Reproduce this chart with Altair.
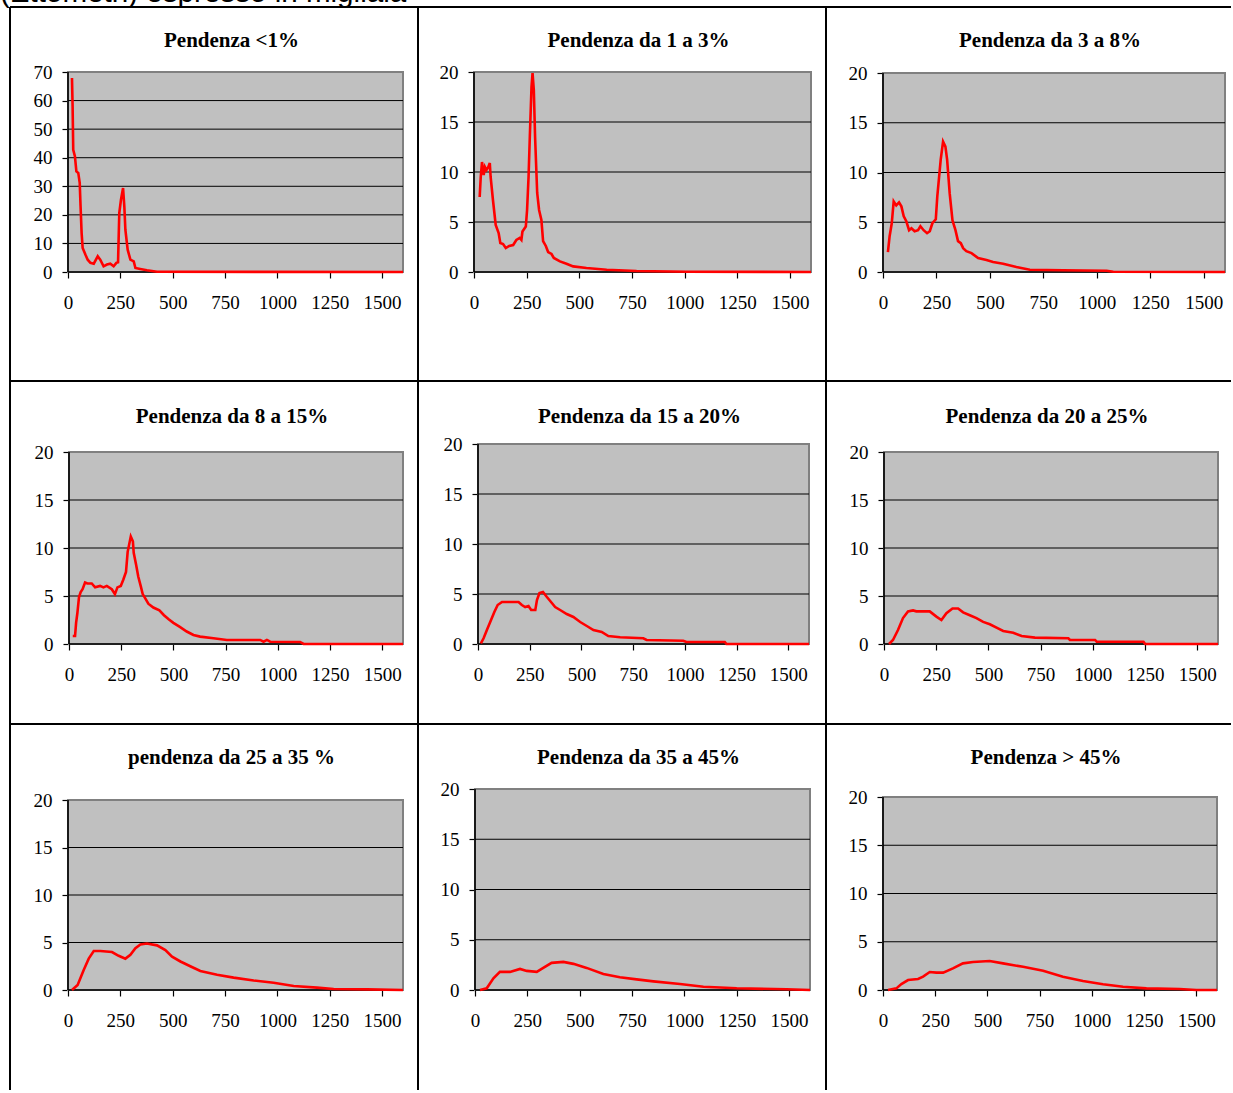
import altair as alt
import pandas as pd

# ---------------------------------------------------------------------------
# Distribuzione della lunghezza dei tratti per classe di pendenza
# ---------------------------------------------------------------------------
HEADER = "(Ettometri) espresso in migliaia"

TITLES = [
    "Pendenza <1%",
    "Pendenza da 1 a 3%",
    "Pendenza da 3 a 8%",
    "Pendenza da 8 a 15%",
    "Pendenza da 15 a 20%",
    "Pendenza da 20 a 25%",
    "pendenza da 25 a 35 %",
    "Pendenza da 35 a 45%",
    "Pendenza > 45%",
]

Y_MAX = [70, 20, 20, 20, 20, 20, 20, 20, 20]
Y_STEP = [10, 5, 5, 5, 5, 5, 5, 5, 5]
X_TICKS = [0, 250, 500, 750, 1000, 1250, 1500]
X_MAX = 1600

p1_x = [19, 22, 25, 33, 40, 49, 56, 60, 65, 70, 83, 94, 107, 123, 142, 154, 170, 186,
        202, 218, 231, 239, 245, 253, 263, 269, 274, 285, 298, 314, 322, 345, 377, 425, 1600]
p1_y = [67.9, 58, 42.8, 40.5, 35.2, 34.7, 31.2, 23, 13.7, 8.4, 6.1, 4.3, 3.2, 2.9, 5.5, 4.3,
        2.0, 2.6, 2.9, 2.0, 3.2, 3.4, 20.7, 25.3, 29.4, 23, 14.8, 7.8, 4.3, 3.7, 1.4, 1.05,
        0.6, 0.1, 0]

p2_x = [27, 32, 38, 46, 52, 59, 68, 75, 79, 90, 103, 117, 125, 138, 151, 167, 186, 201,
        217, 225, 230, 246, 252, 259, 265, 273, 278, 284, 290, 300, 309, 320, 328, 341,
        352, 368, 379, 408, 439, 471, 534, 630, 772, 1010, 1600]
p2_y = [7.5, 9.5, 11.0, 9.7, 10.5, 10.2, 10.5, 10.9, 9.5, 7.2, 4.7, 3.9, 2.9, 2.8, 2.4,
        2.6, 2.7, 3.2, 3.4, 3.2, 4.05, 4.55, 6.2, 9.5, 13.5, 18.5, 19.9, 18.2, 13.5, 7.9,
        6.2, 5.2, 3.1, 2.6, 2.0, 1.8, 1.4, 1.06, 0.83, 0.56, 0.4, 0.23, 0.1, 0.03, 0]

p3_x = [23, 31, 41, 50, 62, 75, 86, 97, 109, 122, 133, 148, 164, 175, 190, 206, 219, 231,
        247, 254, 270, 281, 292, 300, 312, 325, 339, 351, 364, 375, 390, 414, 445, 484,
        515, 562, 624, 687, 843, 1046, 1077, 1600]
p3_y = [2.0, 3.6, 4.9, 7.1, 6.7, 7.0, 6.6, 5.6, 5.1, 4.2, 4.4, 4.1, 4.2, 4.6, 4.2, 3.9,
        4.1, 4.9, 5.3, 7.6, 11.3, 13.1, 12.6, 11.3, 7.9, 5.2, 4.2, 3.1, 2.9, 2.4, 2.1, 1.9,
        1.4, 1.2, 1.0, 0.83, 0.5, 0.23, 0.17, 0.13, 0.03, 0]

p4_x = [18, 29, 34, 40, 48, 56, 65, 77, 88, 109, 125, 149, 165, 181, 205, 220, 232, 248,
        260, 273, 281, 296, 306, 310, 321, 332, 344, 353, 364, 380, 404, 433, 455, 476,
        500, 529, 564, 596, 628, 692, 756, 916, 932, 948, 964, 1107, 1124, 1600]
p4_y = [0.83, 0.83, 2.2, 3.2, 4.9, 5.4, 5.7, 6.4, 6.3, 6.3, 5.9, 6.05, 5.9, 6.05, 5.7, 5.2,
        5.9, 6.05, 6.7, 7.5, 9.6, 11.2, 10.7, 9.5, 8.3, 7.0, 6.0, 5.2, 4.8, 4.2, 3.8, 3.5,
        3.0, 2.6, 2.2, 1.8, 1.3, 0.94, 0.77, 0.6, 0.42, 0.42, 0.24, 0.42, 0.24, 0.21, 0, 0]

p5_x = [14, 27, 43, 63, 79, 95, 116, 196, 212, 228, 244, 257, 277, 285, 297, 314, 333, 357,
        373, 397, 429, 461, 494, 526, 558, 598, 630, 687, 799, 815, 992, 1008, 1193, 1201,
        1600]
p5_y = [0.07, 0.57, 1.4, 2.4, 3.2, 3.9, 4.2, 4.2, 3.9, 3.7, 3.8, 3.4, 3.4, 4.4, 5.1, 5.2,
        4.7, 4.1, 3.7, 3.4, 3.0, 2.7, 2.2, 1.8, 1.4, 1.2, 0.8, 0.67, 0.57, 0.4, 0.33, 0.2,
        0.2, 0, 0]

p6_x = [24, 43, 67, 91, 115, 139, 155, 219, 251, 275, 299, 328, 355, 379, 411, 443, 475,
        507, 539, 571, 619, 659, 723, 883, 891, 1011, 1019, 1243, 1251, 1600]
p6_y = [0, 0.42, 1.46, 2.7, 3.4, 3.5, 3.4, 3.4, 2.85, 2.5, 3.2, 3.7, 3.7, 3.3, 3.0, 2.7,
        2.3, 2.05, 1.7, 1.36, 1.18, 0.83, 0.66, 0.6, 0.42, 0.42, 0.24, 0.24, 0, 0]

p7_x = [19, 46, 75, 99, 123, 154, 210, 242, 274, 298, 322, 346, 377, 425, 465, 497, 537,
        584, 632, 712, 791, 887, 982, 1078, 1189, 1269, 1428, 1600]
p7_y = [0, 0.53, 2.1, 3.3, 4.1, 4.1, 4.0, 3.6, 3.3, 3.7, 4.4, 4.8, 4.9, 4.7, 4.2, 3.5, 3.0,
        2.5, 2.0, 1.6, 1.3, 1.0, 0.77, 0.42, 0.25, 0.1, 0.07, 0]

p8_x = [24, 56, 88, 119, 167, 215, 247, 295, 326, 366, 422, 470, 533, 613, 692, 772, 852,
        979, 1091, 1250, 1488, 1600]
p8_y = [0, 0.17, 1.16, 1.8, 1.8, 2.1, 1.9, 1.8, 2.2, 2.7, 2.8, 2.6, 2.2, 1.6, 1.26, 1.06,
        0.86, 0.6, 0.33, 0.17, 0.07, 0]

p9_x = [24, 64, 88, 120, 168, 192, 224, 256, 288, 335, 383, 431, 511, 575, 671, 767, 862,
        958, 1054, 1150, 1262, 1421, 1501, 1600]
p9_y = [0, 0.17, 0.62, 1.03, 1.14, 1.38, 1.86, 1.8, 1.8, 2.24, 2.76, 2.9, 3.0, 2.76, 2.4,
        2.0, 1.38, 0.93, 0.59, 0.34, 0.17, 0.1, 0, 0]

SERIES = [(p1_x, p1_y), (p2_x, p2_y), (p3_x, p3_y), (p4_x, p4_y), (p5_x, p5_y),
          (p6_x, p6_y), (p7_x, p7_y), (p8_x, p8_y), (p9_x, p9_y)]

# ---------------------------------------------------------------------------
# Table layout: cell sizes and the plot frame inside every cell
# ---------------------------------------------------------------------------
COL_W = [408, 408, 405]
ROW_H = [374, 343, 366]
# (left, right, top, bottom) of the plotting area, in pixels from the cell corner
FRAMES = [
    (58, 393, 65, 265), (56, 393, 65, 265), (57, 399, 66, 265),
    (59, 393, 71, 263), (60, 391, 63, 263), (58, 392, 71, 263),
    (58, 393, 76, 266), (57, 392, 65, 266), (57, 391, 73, 266),
]
TITLE_BASE = [40, 42, 40]

SERIF = "Liberation Serif"
PLOT_BG = "#C0C0C0"
PLOT_EDGE = "#808080"
RED = "#FF0000"

one = pd.DataFrame({"k": [0]})


def panel(i):
    r, c = divmod(i, 3)
    W, H = COL_W[c], ROW_H[r]
    xl, xr, yt, yb = FRAMES[i]
    ymax, step = Y_MAX[i], Y_STEP[i]
    yticks = list(range(0, ymax + 1, step))

    xs = alt.Scale(domain=[0, X_MAX], range=[xl, xr], nice=False, zero=False)
    ys = alt.Scale(domain=[0, ymax], range=[yb, yt], nice=False)
    x_axis = alt.Axis(values=X_TICKS, orient="bottom", offset=yb - H, format="d",
                      domain=False, grid=False, tickSize=6, tickWidth=1.2,
                      tickColor="black", labelFont=SERIF, labelFontSize=19,
                      labelColor="black", labelPadding=15, labelFlush=False,
                      labelOverlap=False, title=None)
    y_axis = alt.Axis(values=yticks, orient="left", offset=-xl, format="d",
                      domain=False, grid=False, tickSize=6, tickWidth=1.2,
                      tickColor="black", labelFont=SERIF, labelFontSize=19,
                      labelColor="black", labelPadding=10, labelFlush=False,
                      labelOverlap=False, title=None)

    def X(f):
        return alt.X(f, type="quantitative", scale=xs, axis=x_axis, title=None)

    def Y(f):
        return alt.Y(f, type="quantitative", scale=ys, axis=y_axis, title=None)

    # table cell borders (top and left edges of the cell)
    top_edge = alt.Chart(one).mark_rule(color="black", strokeWidth=2).encode(
        x=alt.value(0), x2=alt.value(W), y=alt.value(0))
    left_edge = alt.Chart(one).mark_rule(color="black", strokeWidth=2).encode(
        x=alt.value(0), y=alt.value(0), y2=alt.value(H))

    # grey plotting area
    area = pd.DataFrame({"x0": [0], "x1": [X_MAX], "y0": [0], "y1": [ymax]})
    bg = alt.Chart(area).mark_rect(fill=PLOT_BG, stroke=PLOT_EDGE, strokeWidth=2).encode(
        x=X("x0"), x2="x1", y=Y("y0"), y2="y1")

    # horizontal gridlines
    grid_df = pd.DataFrame({"g": yticks[1:-1]})
    grid_df["a"] = 0
    grid_df["b"] = X_MAX
    grid = alt.Chart(grid_df).mark_rule(color="black", strokeWidth=1).encode(
        x=X("a"), x2="b", y=Y("g"))

    # axis lines
    base_x = alt.Chart(area).mark_rule(color="black", strokeWidth=1.6).encode(
        x=X("x0"), x2="x1", y=Y("y0"))
    base_y = alt.Chart(area).mark_rule(color="black", strokeWidth=1.6).encode(
        x=X("x0"), y=Y("y0"), y2="y1")

    xs_vals, ys_vals = SERIES[i]
    line_df = pd.DataFrame({"x": xs_vals, "y": ys_vals})
    line = alt.Chart(line_df).mark_line(color=RED, strokeWidth=2.6).encode(
        x=X("x"), y=Y("y"))

    title = alt.Chart(one).mark_text(
        text=TITLES[i], font=SERIF, fontWeight="bold", fontSize=21, color="black",
        align="center", baseline="alphabetic").encode(
        x=alt.value((xl + xr) / 2 - 4), y=alt.value(TITLE_BASE[r]))

    layers = [bg, grid, base_x, base_y, line, title, top_edge, left_edge]
    if i == 0:
        header = alt.Chart(one).mark_text(
            text=HEADER, font="Liberation Sans", fontSize=29.6, color="black",
            align="left", baseline="alphabetic").encode(
            x=alt.value(-10), y=alt.value(-5))
        layers.append(header)

    return alt.layer(*layers).properties(width=W, height=H)


chart = alt.concat(
    *[panel(i) for i in range(9)], columns=3, spacing=0, bounds="flush"
).properties(
    padding={"left": 0, "top": -22, "right": 0, "bottom": 0},
    background="white",
).configure_view(stroke=None, fill=None)

chart.save("out.html", embed_options={"renderer": "svg", "actions": False})
